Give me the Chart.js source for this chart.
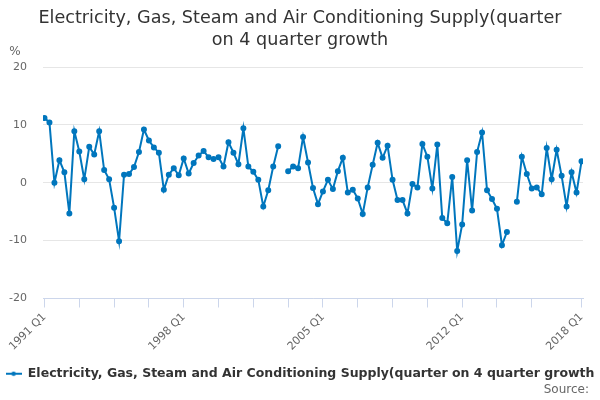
<!DOCTYPE html>
<html>
<head>
<meta charset="utf-8">
<script src="https://cdn.jsdelivr.net/npm/chart.js@4"></script>
<style>
  html, body { margin: 0; padding: 0; background: #fff; }
  #wrap { width: 600px; height: 400px; }
</style>
</head>
<body>
<div id="wrap"><canvas id="growth_chart"></canvas></div>
<script>
// Quarters 1991 Q1 .. 2018 Q1
const firstYear = 1991;
const quarterCount = 109;
const labeledQuarters = [0, 28, 56, 84, 108];

// quarter on 4 quarter growth, % (null = no value)
const growthValues = [
  11.2, 10.4, 0.0, 3.9, 1.8, -5.3, 8.9, 5.4, 0.6, 6.2,
  4.9, 8.9, 2.2, 0.6, -4.3, -10.1, 1.4, 1.5, 2.7, 5.3,
  9.2, 7.3, 6.1, 5.2, -1.2, 1.4, 2.5, 1.3, 4.2, 1.6,
  3.4, 4.7, 5.5, 4.4, 4.1, 4.4, 2.8, 7.0, 5.2, 3.2,
  9.4, 2.8, 1.9, 0.5, -4.1, -1.3, 2.8, 6.3, null, 2.0,
  2.8, 2.5, 7.9, 3.5, -0.9, -3.7, -1.5, 0.5, -1.1, 2.0,
  4.3, -1.7, -1.2, -2.7, -5.4, -0.8, 3.1, 6.9, 4.3, 6.4,
  0.5, -3.0, -3.0, -5.3, -0.2, -0.8, 6.7, 4.5, -1.0, 6.6,
  -6.1, -7.0, 1.0, -11.8, -7.2, 3.9, -4.8, 5.3, 8.7, -1.3,
  -2.8, -4.5, -10.8, -8.5, null, -3.3, 4.5, 1.5, -1.0, -0.8,
  -2.0, 6.0, 0.6, 5.7, 1.2, -4.1, 1.8, -1.7, 3.7
];

const seriesName = 'Electricity, Gas, Steam and Air Conditioning Supply(quarter on 4 quarter growth';
const titleLines = ['Electricity, Gas, Steam and Air Conditioning Supply(quarter', 'on 4 quarter growth'];
const lineColor = 'rgb(0,118,189)';

function quarterLabel(i) {
  return (firstYear + Math.floor(i / 4)) + ' Q' + (i % 4 + 1);
}

const points = growthValues.map((v, i) => ({ x: i, y: v }));

// legend symbol: short line with a dot, like the original
const legendSymbol = document.createElement('canvas');
legendSymbol.width = 16;
legendSymbol.height = 6;
(function () {
  const c = legendSymbol.getContext('2d');
  c.fillStyle = lineColor;
  c.fillRect(0, 2, 16, 2);
  c.beginPath();
  c.arc(8, 3, 2.2, 0, Math.PI * 2);
  c.fill();
})();

const extraText = {
  id: 'extraText',
  afterDraw(chart) {
    const ctx = chart.ctx;
    ctx.save();
    ctx.fillStyle = '#666';
    ctx.font = '12px "DejaVu Sans"';
    ctx.textBaseline = 'middle';
    ctx.textAlign = 'center';
    ctx.fillText('%', 15, 52);
    ctx.textAlign = 'right';
    ctx.fillText('Source:', 589, 390);
    ctx.restore();
  }
};

const ctxGrowth = document.getElementById('growth_chart').getContext('2d');
const growthChart = new Chart(ctxGrowth, {
  type: 'line',
  data: {
    datasets: [{
      label: seriesName,
      data: points,
      borderColor: lineColor,
      backgroundColor: lineColor,
      borderWidth: 2,
      pointRadius: 2,
      pointHoverRadius: 3,
      spanGaps: false,
      tension: 0
    }]
  },
  options: {
    responsive: true,
    maintainAspectRatio: false,
    animation: false,
    layout: { padding: { left: 0, right: 0, top: 0, bottom: 10 } },
    plugins: {
      title: {
        display: true,
        text: titleLines,
        color: '#333',
        font: { family: 'DejaVu Sans', size: 17.6, weight: 'normal', lineHeight: 1.25 },
        padding: { top: 7, bottom: 16 }
      },
      legend: {
        position: 'bottom',
        labels: {
          color: '#333',
          font: { family: 'DejaVu Sans', size: 12.5, weight: 'bold' },
          usePointStyle: true,
          pointStyle: legendSymbol,
          pointStyleWidth: 16,
          boxHeight: 6,
          padding: 10
        }
      },
      tooltip: { enabled: false }
    },
    scales: {
      x: {
        type: 'linear',
        min: -0.3,
        max: 108.3,
        afterBuildTicks(scale) {
          const t = [];
          for (let i = 0; i <= 98; i += 7) t.push({ value: i });
          t.push({ value: 108 });
          scale.ticks = t;
        },
        afterFit(scale) { scale.height = 59; },
        grid: { drawOnChartArea: false, color: '#ccd6eb', tickLength: 9 },
        border: { color: '#ccd6eb' },
        ticks: {
          autoSkip: false,
          minRotation: 45,
          maxRotation: 45,
          color: '#666',
          font: { family: 'DejaVu Sans', size: 11 },
          callback: (v) => labeledQuarters.includes(v) ? quarterLabel(v) : ''
        }
      },
      y: {
        min: -20,
        max: 20,
        afterFit(scale) { scale.width = 43; },
        grid: { color: '#e6e6e6', drawTicks: false },
        border: { display: false },
        ticks: {
          stepSize: 10,
          padding: 16,
          color: '#666',
          font: { family: 'DejaVu Sans', size: 11 }
        }
      },
      // empty right gutter so the plot stops short of the edge
      yRight: {
        position: 'right',
        min: -20,
        max: 20,
        afterFit(scale) { scale.width = 17; },
        grid: { drawOnChartArea: false, drawTicks: false },
        border: { display: false },
        ticks: { display: false }
      }
    }
  },
  plugins: [extraText]
});
</script>
</body>
</html>
